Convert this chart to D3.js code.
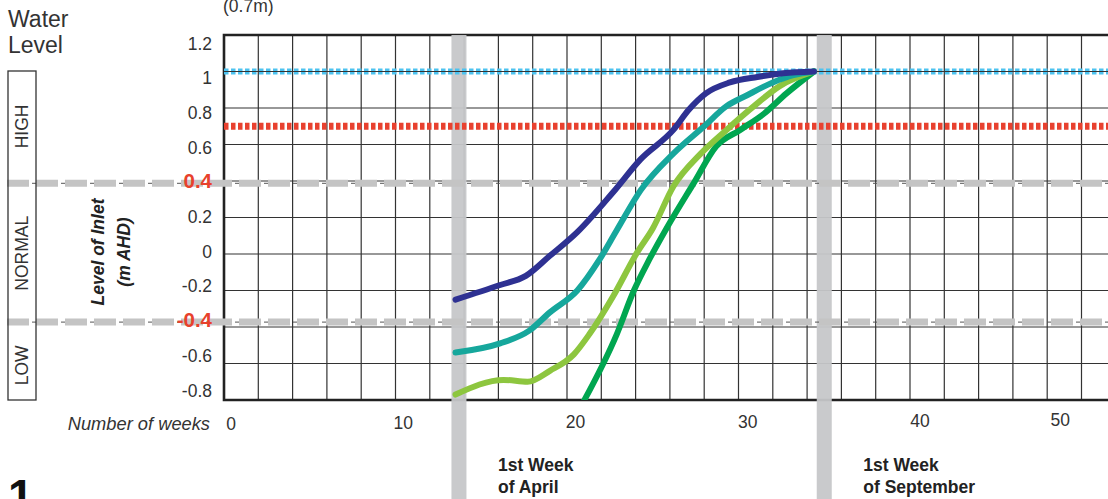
<!DOCTYPE html>
<html>
<head>
<meta charset="utf-8">
<script src="https://cdn.jsdelivr.net/npm/d3@7"></script>
<style>
  html, body { margin: 0; padding: 0; background: #fff; }
  svg { display: block; font-family: "Liberation Sans", Arial, sans-serif; }
</style>
</head>
<body>
<svg id="chart" width="1108" height="499"></svg>
<script>
// weeks (x) and inlet level (m AHD) for each curve
const blueWeeks  = [13.5, 16.1, 17.6, 19.0, 20.6, 22.7, 24.3, 26.2, 27.1, 28.1, 29.5, 31.1, 32.6, 34.4];
const blueLevels = [-0.25, -0.17, -0.12, -0.01, 0.12, 0.34, 0.52, 0.68, 0.79, 0.88, 0.94, 0.97, 0.99, 1.0];

const tealWeeks  = [13.5, 16.1, 17.8, 19.0, 20.6, 21.9, 22.9, 24.3, 26.2, 28.0, 29.3, 30.5, 32.0, 33.2, 34.4];
const tealLevels = [-0.54, -0.49, -0.42, -0.32, -0.2, -0.03, 0.13, 0.35, 0.55, 0.7, 0.81, 0.87, 0.94, 0.98, 1.0];

const limeWeeks  = [13.5, 16.3, 17.7, 19.0, 20.4, 21.3, 22.7, 24.1, 25.0, 26.2, 27.8, 29.3, 30.9, 32.4, 34.4];
const limeLevels = [-0.77, -0.69, -0.70, -0.64, -0.55, -0.44, -0.23, 0.01, 0.14, 0.37, 0.55, 0.68, 0.81, 0.92, 1.0];

const greenWeeks  = [20.9, 22.9, 23.9, 24.8, 25.8, 27.4, 28.7, 30.1, 31.5, 32.8, 34.4];
const greenLevels = [-0.82, -0.44, -0.2, -0.03, 0.14, 0.39, 0.59, 0.68, 0.77, 0.88, 1.0];

const yTicks = [1.2, 1, 0.8, 0.6, 0.4, 0.2, 0, -0.2, -0.4, -0.6, -0.8];
const xTicks = [0, 10, 20, 30, 40, 50];
const bandWeeks = [13.7, 35.0];
const bandLabels = [["1st Week", "of April"], ["1st Week", "of September"]];
const zones = ["HIGH", "NORMAL", "LOW"];
const thresholds = [0.4, -0.4];
const topLevel = 1.0, highLevel = 0.7;

const svg = d3.select('#chart');
const W = 1108, H = 499;

let x = d3.scaleLinear().domain([0, 50]).range([224, 1081.5]);
let y = d3.scaleLinear().domain([-0.8, 1.2]).range([400, 35]);
// the printed labels sit a bit off the grid
let xLab = d3.scaleLinear().domain([0, 40]).range([231, 920]);
let yLab = d3.scaleLinear().domain([-0.8, 1.2]).range([390, 43]);

svg.append('defs').append('clipPath').attr('id', 'plotclip')
  .append('rect').attr('x', x(0)).attr('y', y(1.2)).attr('width', W - x(0)).attr('height', y(-0.8) - y(1.2));

// grid
let grid = svg.append('g');
grid.selectAll('line.v')
  .data(d3.range(2, 54, 2))
  .join('line')
  .attr('x1', d => x(d)).attr('x2', d => x(d))
  .attr('y1', y(1.2)).attr('y2', y(-0.8))
  .attr('stroke', '#333').attr('stroke-width', 1.2);
grid.selectAll('line.h')
  .data(d3.range(-0.6, 1.21, 0.2))
  .join('line')
  .attr('x1', x(0)).attr('x2', W)
  .attr('y1', d => y(d)).attr('y2', d => y(d))
  .attr('stroke', '#333').attr('stroke-width', 1.2);

// plot frame
svg.append('path')
  .attr('d', `M${W},${y(1.2)}H${x(0)}V${y(-0.8)}H${W}`)
  .attr('fill', 'none').attr('stroke', '#222').attr('stroke-width', 2.6);

// grey month bands
svg.selectAll('rect.band')
  .data(bandWeeks)
  .join('rect')
  .attr('x', d => x(d) - 7.5).attr('width', 15)
  .attr('y', y(1.2)).attr('height', H - y(1.2))
  .attr('fill', '#c6c7c9').attr('opacity', 0.95);

bandWeeks.forEach(function(w, i) {
  let t = svg.append('text')
    .attr('x', x(w) + 39).attr('y', 471)
    .attr('font-size', 17.5).attr('font-weight', 'bold').attr('fill', '#222');
  bandLabels[i].forEach(function(s, j) {
    t.append('tspan').attr('x', x(w) + 39).attr('dy', j ? 22 : 0).text(s);
  });
});

// zone thresholds (grey dashed)
thresholds.forEach(function(v) {
  let yy = yLab(v) + 1.5;
  svg.append('line').attr('x1', 7).attr('x2', W).attr('y1', yy).attr('y2', yy)
    .attr('stroke', '#555').attr('stroke-width', 1)
    .attr('stroke-dasharray', '7 22').attr('stroke-dashoffset', -25);
  svg.append('line').attr('x1', 7).attr('x2', W).attr('y1', yy).attr('y2', yy)
    .attr('stroke', '#c4c4c4').attr('stroke-width', 7)
    .attr('stroke-dasharray', '22 7');
});

// reference dotted lines
svg.append('line').attr('x1', x(0)).attr('x2', W).attr('y1', y(topLevel)).attr('y2', y(topLevel))
  .attr('stroke', '#4dc3f0').attr('stroke-width', 6).attr('stroke-dasharray', '4.5 2.5');
svg.append('line').attr('x1', x(0)).attr('x2', W).attr('y1', y(topLevel)).attr('y2', y(topLevel))
  .attr('stroke', '#333').attr('stroke-width', 1);
svg.append('line').attr('x1', x(0)).attr('x2', W).attr('y1', y(highLevel)).attr('y2', y(highLevel))
  .attr('stroke', '#e8412f').attr('stroke-width', 7).attr('stroke-dasharray', '4.5 2.5');

// curves
let series = [
  {weeks: greenWeeks, levels: greenLevels, color: '#00a650'},
  {weeks: limeWeeks, levels: limeLevels, color: '#8dc63f'},
  {weeks: tealWeeks, levels: tealLevels, color: '#16a79c'},
  {weeks: blueWeeks, levels: blueLevels, color: '#2e3192'}
];
let line = d3.line()
  .x(d => x(d[0])).y(d => y(d[1]))
  .curve(d3.curveMonotoneX);
svg.append('g').attr('clip-path', 'url(#plotclip)')
  .selectAll('path')
  .data(series)
  .join('path')
  .attr('d', d => line(d3.zip(d.weeks, d.levels)))
  .attr('fill', 'none')
  .attr('stroke', d => d.color)
  .attr('stroke-width', 6)
  .attr('stroke-linecap', 'round')
  .attr('stroke-linejoin', 'round');

// y tick labels
svg.selectAll('text.ytick')
  .data(yTicks)
  .join('text')
  .attr('x', 212)
  .attr('y', d => yLab(d) + 6.5)
  .attr('text-anchor', 'end')
  .attr('font-size', d => Math.abs(d) === 0.4 ? 20.5 : 17.5)
  .attr('font-weight', d => Math.abs(d) === 0.4 ? 'bold' : 'normal')
  .attr('fill', d => Math.abs(d) === 0.4 ? '#e8412c' : '#333')
  .text(d => String(d));

// x tick labels
svg.selectAll('text.xtick')
  .data(xTicks)
  .join('text')
  .attr('x', d => d === 50 ? xLab(d) - 32 : xLab(d))
  .attr('y', d => 430 - d * 0.08)
  .attr('text-anchor', 'middle')
  .attr('font-size', 17.5).attr('fill', '#333')
  .text(d => d);

svg.append('text').attr('x', 210).attr('y', 430)
  .attr('text-anchor', 'end').attr('font-size', 18.3).attr('font-style', 'italic').attr('fill', '#333')
  .text('Number of weeks');

svg.append('text').attr('x', 223).attr('y', 12)
  .attr('font-size', 17.5).attr('fill', '#333').text('(0.7m)');

// water level title
let title = svg.append('text').attr('x', 8).attr('y', 27).attr('font-size', 23).attr('fill', '#333');
title.append('tspan').attr('x', 8).text('Water');
title.append('tspan').attr('x', 8).attr('dy', 26).text('Level');

// zone box
svg.append('rect').attr('x', 8).attr('y', 71).attr('width', 28).attr('height', 329)
  .attr('fill', 'none').attr('stroke', '#333').attr('stroke-width', 1.3);
let zoneY = [(71 + yLab(0.4)) / 2, (yLab(0.4) + yLab(-0.4)) / 2 + 2, (yLab(-0.4) + 400) / 2 + 5];
zones.forEach(function(z, i) {
  svg.append('text')
    .attr('transform', `translate(28,${zoneY[i]}) rotate(-90)`)
    .attr('text-anchor', 'middle')
    .attr('font-size', 17.5).attr('fill', '#333')
    .text(z);
});

// axis title
let ytitle = svg.append('text')
  .attr('transform', 'translate(104,252) rotate(-90)')
  .attr('text-anchor', 'middle')
  .attr('font-size', 17.5).attr('font-weight', 'bold').attr('font-style', 'italic').attr('fill', '#222');
ytitle.append('tspan').attr('x', 0).attr('y', 0).text('Level of Inlet');
ytitle.append('tspan').attr('x', 0).attr('y', 26).text('(m AHD)');

// panel number
svg.append('text').attr('x', 8).attr('y', 512)
  .attr('font-size', 46).attr('font-weight', 'bold').attr('fill', '#111').text('1');
</script>
</body>
</html>
